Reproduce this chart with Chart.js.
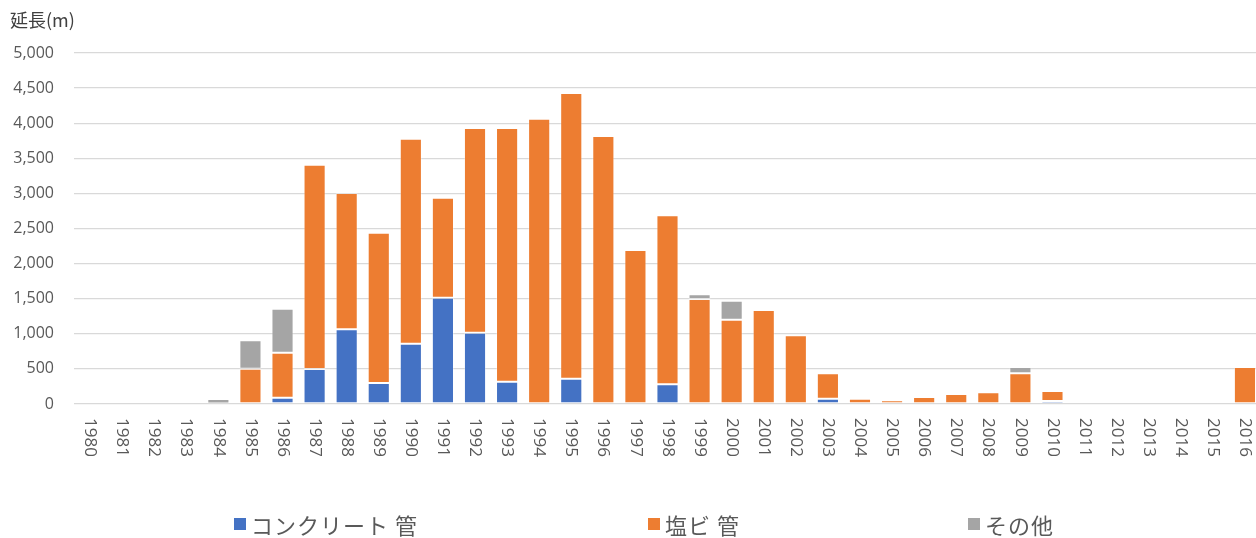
<!DOCTYPE html>
<html>
<head>
<meta charset="utf-8">
<script src="https://cdn.jsdelivr.net/npm/chart.js@4"></script>
<style>
  html, body { margin: 0; padding: 0; background: #fff; overflow: hidden; }
  #wrap { position: relative; width: 1261px; height: 538px; }
</style>
</head>
<body>
<div id="wrap"><canvas id="c"></canvas></div>
<script>
const years = ['1980','1981','1982','1983','1984','1985','1986','1987','1988','1989','1990','1991','1992','1993','1994','1995','1996','1997','1998','1999','2000','2001','2002','2003','2004','2005','2006','2007','2008','2009','2010','2011','2012','2013','2014','2015','2016'];
const concrete = [0,0,0,0,0,0,90,500,1064,299,859,1514,1016,318,0,361,0,0,280,0,0,0,0,75,0,0,0,0,0,0,43,0,0,0,0,0,0];
const pvc      = [0,0,0,0,8,503,641,2909,1942,2141,2921,1425,2916,3614,4065,4069,3818,2194,2408,1495,1201,1339,978,362,75,52,100,142,167,437,142,0,0,0,0,0,527];
const other    = [0,0,0,0,62,404,627,0,0,0,19,0,0,0,0,0,0,0,0,70,271,0,0,0,0,0,0,0,0,90,0,0,0,0,0,0,0];
const seriesNames = ['コンクリート 管','塩ビ 管','その他'];
const seriesColors = ['#4472C4','#ED7D31','#A5A5A5'];
const yTitle = '延長(m)';
const yMax = 5000, yStep = 500;

const legendX = [234, 648, 968];
const cjk = '"Noto Sans CJK JP", "Noto Sans", sans-serif';
const num = '"Open Sans", "Noto Sans", sans-serif';

const customDraw = {
  id: 'customDraw',
  afterDraw(chart) {
    const ctx = chart.ctx;
    const xs = chart.scales.x;
    const area = chart.chartArea;
    ctx.save();
    // rotated x labels (clockwise, reading top-to-bottom)
    ctx.fillStyle = '#595959';
    ctx.font = '17px ' + num;
    ctx.textAlign = 'left';
    ctx.textBaseline = 'middle';
    years.forEach((y, i) => {
      const x = xs.getPixelForTick(i);
      ctx.save();
      ctx.translate(x, area.bottom + 14);
      ctx.rotate(Math.PI / 2);
      ctx.fillText(y, 0, 0);
      ctx.restore();
    });
    // y title
    ctx.fillStyle = '#404040';
    ctx.font = '18px ' + cjk;
    ctx.textBaseline = 'middle';
    ctx.fillText(yTitle, 10, 20);
    // legend
    ctx.font = '22px ' + cjk;
    ctx.letterSpacing = '1px';
    chart.data.datasets.forEach((ds, i) => {
      ctx.fillStyle = ds.backgroundColor;
      ctx.fillRect(legendX[i], 518, 12, 12);
      ctx.fillStyle = '#595959';
      ctx.fillText(ds.label, legendX[i] + 17, 526);
    });
    ctx.restore();
  }
};

new Chart(document.getElementById('c'), {
  type: 'bar',
  data: {
    labels: years,
    datasets: [
      { label: seriesNames[0], data: concrete, backgroundColor: seriesColors[0] },
      { label: seriesNames[1], data: pvc, backgroundColor: seriesColors[1] },
      { label: seriesNames[2], data: other, backgroundColor: seriesColors[2] }
    ]
  },
  options: {
    responsive: true,
    maintainAspectRatio: false,
    animation: false,
    layout: { padding: { top: 53, bottom: 134, left: 0, right: 0 } },
    datasets: {
      bar: {
        barPercentage: 0.69,
        categoryPercentage: 1,
        borderWidth: 1,
        borderColor: 'rgba(255,255,255,0.3)',
        borderSkipped: false
      }
    },
    plugins: { legend: { display: false }, tooltip: { enabled: false }, title: { display: false } },
    scales: {
      x: {
        stacked: true,
        grid: { display: false },
        border: { display: false },
        ticks: { display: false },
        afterFit(s) { s.height = 0; }
      },
      y: {
        stacked: true,
        min: 0, max: yMax,
        ticks: {
          stepSize: yStep,
          padding: 20,
          color: '#595959',
          font: { size: 16, family: num },
          callback: v => v.toLocaleString('en-US')
        },
        grid: { color: '#D9D9D9', lineWidth: 1.3, drawTicks: false },
        border: { display: false },
        afterFit(s) { s.width = 74; }
      }
    }
  },
  plugins: [customDraw]
});
</script>
</body>
</html>
